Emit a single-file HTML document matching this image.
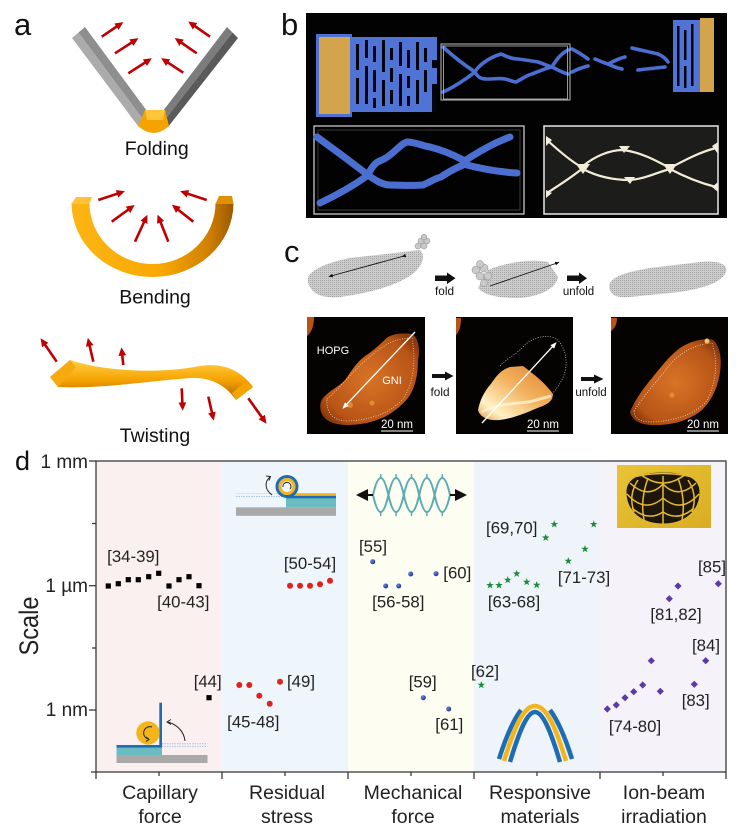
<!DOCTYPE html>
<html><head><meta charset="utf-8">
<style>
html,body{margin:0;padding:0;background:#fff;}
svg{display:block;}
text{font-family:"Liberation Sans",Arial,sans-serif;}
</style></head><body>
<svg width="755" height="831" viewBox="0 0 755 831" xmlns="http://www.w3.org/2000/svg">
<defs>
<marker id="rh" markerWidth="3.2" markerHeight="3" refX="1.2" refY="1.5" orient="auto"><path d="M0,0 L3.2,1.5 L0,3 z" fill="#c00000"/></marker>
<marker id="wh" markerWidth="5" markerHeight="4" refX="2" refY="2" orient="auto"><path d="M0,0 L5,2 L0,4 z" fill="#fff"/></marker>
<marker id="kh" markerWidth="5" markerHeight="4" refX="2" refY="2" orient="auto"><path d="M0,0 L5,2 L0,4 z" fill="#111"/></marker>
<marker id="ks" markerWidth="6" markerHeight="6" refX="3" refY="3" orient="auto"><path d="M0,0 L6,3 L0,6 z" fill="#111"/></marker>
<linearGradient id="bendG" x1="0" y1="0" x2="1" y2="0">
<stop offset="0" stop-color="#fdb515"/><stop offset="0.55" stop-color="#f9a800"/><stop offset="0.85" stop-color="#d08000"/><stop offset="1" stop-color="#9a5800"/></linearGradient>
<linearGradient id="twG" x1="0" y1="0" x2="0" y2="1">
<stop offset="0" stop-color="#ffcf45"/><stop offset="0.5" stop-color="#f5a300"/><stop offset="1" stop-color="#b06400"/></linearGradient>
<radialGradient id="afm1" cx="0.5" cy="0.5" r="0.6">
<stop offset="0" stop-color="#d87426"/><stop offset="0.8" stop-color="#b85416"/><stop offset="1" stop-color="#8a3a0c"/></radialGradient>
<linearGradient id="afm2" x1="1" y1="0" x2="0" y2="1">
<stop offset="0" stop-color="#e0802c"/><stop offset="0.45" stop-color="#f3b462"/><stop offset="0.8" stop-color="#fff2c6"/><stop offset="1" stop-color="#e89a48"/></linearGradient>
<radialGradient id="blueS" cx="0.35" cy="0.35" r="0.7">
<stop offset="0" stop-color="#6a88e0"/><stop offset="1" stop-color="#1a2e8a"/></radialGradient>
<linearGradient id="goldG" x1="0" y1="0" x2="1" y2="1">
<stop offset="0" stop-color="#e9c437"/><stop offset="1" stop-color="#d9ad22"/></linearGradient>
<pattern id="dots" width="2" height="2" patternUnits="userSpaceOnUse"><rect width="2" height="2" fill="#cdcdcd"/><rect width="1" height="1" fill="#a3a3a3"/></pattern>
<path id="star" d="M0,-4 L0.94,-1.29 L3.8,-1.24 L1.52,0.49 L2.35,3.24 L0,1.6 L-2.35,3.24 L-1.52,0.49 L-3.8,-1.24 L-0.94,-1.29 Z" fill="#1e8a3c"/>
<path id="dia" d="M0,-3.6 L3.6,0 L0,3.6 L-3.6,0 Z" fill="#5a3aa8"/>
<rect id="sq" x="-2.6" y="-2.6" width="5.2" height="5.2" fill="#000"/>
<circle id="rc" r="3" fill="#e0201c"/>
<circle id="bc" r="2.5" fill="url(#blueS)"/>
</defs>

<!-- ===== Panel labels ===== -->
<text x="14" y="35" font-size="31" fill="#111">a</text>
<text x="281" y="35" font-size="31" fill="#111">b</text>
<text x="284" y="262" font-size="31" fill="#111">c</text>
<text x="15" y="470" font-size="27" fill="#111">d</text>

<!-- ===== Panel a: Folding ===== -->
<polygon points="72,38 78.5,32.5 142.5,118.5 138,126" fill="#ababab"/>
<polygon points="78.5,32.5 85,27 147,111 142.5,118.5" fill="#8e8e8e"/>
<polygon points="227,27 232.5,32.5 165.5,119 163,111" fill="#7c7c7c"/>
<polygon points="232.5,32.5 238,38 168,127 165.5,119" fill="#5a5a5a"/>
<path d="M145,110 L165,110 L169,126 Q154,140 138,126 Z" fill="#f5a300"/>
<polygon points="145,110 165,110 163,120 147,120" fill="#ffc43a"/>
<g stroke="#c00000" stroke-width="2.6" marker-end="url(#rh)">
<line x1="101.7" y1="36.7" x2="119" y2="25"/>
<line x1="115" y1="53.3" x2="134" y2="41"/>
<line x1="128.3" y1="73.3" x2="147.5" y2="61"/>
<line x1="210" y1="36.7" x2="192.5" y2="24.5"/>
<line x1="196.7" y1="53.3" x2="179" y2="41"/>
<line x1="183.3" y1="72.7" x2="165.5" y2="61"/>
</g>
<text x="156.7" y="155" font-size="19.5" text-anchor="middle" fill="#111">Folding</text>

<!-- Bending -->
<path d="M71.5,203 A81,74 0 0 0 233.5,203 L215.5,203 A63,61 0 0 1 89.5,203 Z" fill="url(#bendG)"/>
<polygon points="71.5,204 76,197 92,197 89.5,204" fill="#ffc23a"/>
<polygon points="215.5,204 219,196 232,196 233.5,204" fill="#e09000"/>
<g stroke="#c00000" stroke-width="2.6" marker-end="url(#rh)">
<line x1="98.3" y1="200" x2="120" y2="192.8"/>
<line x1="111.7" y1="221.7" x2="130.5" y2="208"/>
<line x1="135" y1="241.7" x2="145.2" y2="219.5"/>
<line x1="168.3" y1="241.7" x2="159.5" y2="219.5"/>
<line x1="193.3" y1="221.7" x2="176" y2="208"/>
<line x1="206.7" y1="200" x2="185" y2="192.8"/>
</g>
<text x="155" y="303.5" font-size="19.5" text-anchor="middle" fill="#111">Bending</text>

<!-- Twisting -->
<path d="M58,387 L50,377 L70,360 C110,373 165,373 200,366 C225,362 242,372 253,387 L236,400 C226,386 212,377 190,378 C150,381 100,389 58,387 Z" fill="url(#twG)"/>
<polygon points="50,377 70,360 76,367 58,387" fill="#f7aa10"/>
<polygon points="236,400 253,387 246,381 232,393" fill="#f5a300"/>
<g stroke="#c00000" stroke-width="2.6" marker-end="url(#rh)">
<line x1="56.7" y1="361.7" x2="43.5" y2="342.5"/>
<line x1="93.3" y1="361.7" x2="89" y2="343"/>
<line x1="123.3" y1="365" x2="122" y2="352.5"/>
<line x1="181.7" y1="388.3" x2="182.5" y2="405.5"/>
<line x1="208.3" y1="396.7" x2="212.6" y2="415.5"/>
<line x1="248.3" y1="398.3" x2="263.5" y2="419.5"/>
</g>
<text x="155" y="442" font-size="19.5" text-anchor="middle" fill="#111">Twisting</text>

<!-- ===== Panel b ===== -->
<rect x="306" y="13" width="421" height="205" fill="#020202"/>
<rect x="316" y="34" width="36" height="83" fill="#4e72d4"/>
<rect x="319" y="37" width="31" height="77" fill="#d4a44c"/>
<rect x="350" y="37" width="87" height="75" fill="#4f74d6"/>
<g fill="#050510">
<rect x="356" y="44" width="3" height="26"/><rect x="356" y="78" width="3" height="26"/>
<rect x="365" y="40" width="3" height="18"/><rect x="365" y="66" width="3" height="38"/>
<rect x="373" y="46" width="3" height="16"/><rect x="373" y="70" width="3" height="22"/><rect x="373" y="98" width="3" height="10"/>
<rect x="382" y="40" width="3" height="32"/><rect x="382" y="80" width="3" height="26"/>
<rect x="390" y="48" width="3" height="12"/><rect x="390" y="68" width="3" height="14"/><rect x="390" y="90" width="3" height="14"/>
<rect x="399" y="42" width="3" height="24"/><rect x="399" y="74" width="3" height="32"/>
<rect x="407" y="50" width="3" height="18"/><rect x="407" y="76" width="3" height="12"/><rect x="407" y="96" width="3" height="10"/>
<rect x="416" y="42" width="3" height="28"/><rect x="416" y="80" width="3" height="24"/>
<rect x="424" y="48" width="3" height="14"/><rect x="424" y="70" width="3" height="22"/>
<rect x="432" y="60" width="5" height="8"/><rect x="432" y="84" width="5" height="28"/>
</g>
<rect x="673" y="20" width="29" height="72" fill="#4f74d6"/>
<rect x="700" y="18" width="14" height="74" fill="#d4a44c"/>
<g fill="#050510">
<rect x="677" y="26" width="2.5" height="60"/><rect x="684" y="30" width="2.5" height="30"/><rect x="684" y="66" width="2.5" height="22"/>
<rect x="691" y="24" width="2.5" height="62"/>
</g>
<g fill="none" stroke="#4a6fd0" stroke-width="3.6" stroke-linecap="round" stroke-linejoin="round">
<path d="M443,47 C455,58 466,66 475,72 C465,80 452,88 443,92"/>
<path d="M475,72 C478,66 488,58 501,54 C508,57 512,59 518,59 C526,60 532,61 538,62 C544,64 548,66 552,67"/>
<path d="M475,72 C478,78 482,79 487,79 C495,79 500,78 505,79 C510,80 513,82 516,82 C522,79 527,75 532,74 C540,71 546,68 552,67"/>
<path d="M552,67 C556,60 562,53 568,50"/>
<path d="M552,67 C558,70 563,73 568,74"/>
<path d="M572,49 C578,52 584,56 588,59"/>
<path d="M572,72 C578,69 584,67 588,66"/>
<path d="M595,59 C600,61 604,63 608,64 C614,61 620,58 625,57"/>
<path d="M608,64 C612,66 617,68 622,69"/>
<path d="M632,48 C640,50 650,52 658,54 C663,56 666,59 668,62"/>
<path d="M638,70 C646,69 656,68 665,67"/>
</g>
<rect x="441" y="44" width="129" height="56" fill="none" stroke="#bdbdbd" stroke-width="1"/>
<rect x="443.5" y="46" width="124" height="53" fill="none" stroke="#bdbdbd" stroke-width="0.8"/>
<rect x="314" y="126" width="210" height="88" fill="#020202" stroke="#d8d8d8" stroke-width="1.2"/>
<rect x="318" y="130" width="202" height="80" fill="none" stroke="#555" stroke-width="0.7"/>
<g fill="none" stroke="#4a6fd0" stroke-width="7" stroke-linecap="round" stroke-linejoin="round">
<path d="M317,137 C335,150 355,165 368,175 C355,185 335,196 320,203"/>
<path d="M368,175 C372,166 376,162 382,160 C392,156 400,144 407,142 C416,142 422,146 430,147 C442,150 452,154 463,160"/>
<path d="M368,175 C376,181 383,185 390,185 C400,185 412,186 423,185 C430,182 436,178 441,177 C448,172 456,168 463,165"/>
<path d="M463,162 C475,154 493,143 510,137"/>
<path d="M463,164 C478,168 498,172 517,173"/>
</g>
<rect x="544" y="126" width="174" height="88" fill="#1c1c1a" stroke="#e8e8e8" stroke-width="1.5"/>
<g fill="none" stroke="#f2ecd8" stroke-width="2.2" stroke-linecap="round">
<path d="M547,140 C560,152 572,162 583,168"/>
<path d="M583,168 C572,177 558,186 547,193"/>
<path d="M583,166 C595,156 610,150 623,150 C640,152 655,160 670,168"/>
<path d="M583,169 C598,177 615,180 630,180 C645,179 658,172 670,169"/>
<path d="M670,168 C685,160 700,152 716,148"/>
<path d="M670,169 C685,177 700,183 716,187"/>
</g>
<g fill="#f2ecd8">
<path d="M576,164 L590,164 L583,174 Z"/>
<path d="M663,164 L677,164 L670,174 Z"/>
<path d="M619,146 L630,146 L624,153 Z"/>
<path d="M624,177 L635,177 L630,184 Z"/>
<path d="M712,146 L718,142 L718,154 Z"/>
<path d="M712,187 L718,182 L718,192 Z"/>
<path d="M546,136 L552,140 L546,146 Z"/>
<path d="M546,190 L552,193 L546,198 Z"/>
</g>

<!-- ===== Panel c top: models ===== -->
<path d="M308,282 C305,270 330,262 350,258 L420,250 C426,256 422,265 415,272 C400,285 370,293 340,297 C320,299 310,292 308,282 Z" fill="url(#dots)"/>
<g fill="#c8c8c8" stroke="#8a8a8a" stroke-width="0.5">
<circle cx="418" cy="246" r="3"/><circle cx="424" cy="246" r="3"/><circle cx="421" cy="241" r="3"/><circle cx="427" cy="241" r="3"/><circle cx="424" cy="237" r="2.8"/>
</g>
<line x1="404" y1="256" x2="331" y2="276" stroke="#111" stroke-width="0.9" marker-end="url(#kh)" marker-start="url(#kh)"/>
<polygon points="435,275.5 447,275.5 447,272.5 455.5,278.3 447,284 447,281 435,281" fill="#111"/>
<text x="444.5" y="295" font-size="11.8" text-anchor="middle" fill="#111">fold</text>
<path d="M478,288 L488,270 C505,263 530,258 548,262 L558,277 C556,289 540,296 520,298 C500,298 485,296 478,288 Z" fill="url(#dots)"/>
<g fill="#cacaca" stroke="#8a8a8a" stroke-width="0.5">
<circle cx="476" cy="270" r="4"/><circle cx="484" cy="268" r="4"/><circle cx="480" cy="276" r="4"/><circle cx="488" cy="276" r="4"/><circle cx="484" cy="283" r="3.5"/><circle cx="480" cy="264" r="3.5"/>
</g>
<line x1="490" y1="286" x2="557" y2="263" stroke="#111" stroke-width="0.9" marker-end="url(#kh)"/>
<polygon points="567,275.5 579,275.5 579,272.5 587,278.3 579,284 579,281 567,281" fill="#111"/>
<text x="578.5" y="295" font-size="11.5" text-anchor="middle" fill="#111">unfold</text>
<path d="M610,290 C605,278 625,272 650,268 L700,262 C720,260 728,265 726,272 C722,283 700,290 670,293 L630,297 C615,298 612,295 610,290 Z" fill="url(#dots)"/>

<!-- AFM images -->
<rect x="307" y="317" width="118" height="117" fill="#050302"/>
<path d="M307,317 L314,317 C314,325 312,332 307,336 Z" fill="#b85416"/>
<path d="M323,398 C330,390 340,386 345,380 C352,370 357,362 365,356 C375,350 382,342 388,337 C395,333 405,333 413,334 C419,340 420,350 418,360 C418,372 416,385 410,395 C404,404 396,410 388,415 C378,421 362,425 348,425 C336,425 326,422 322,414 C319,408 320,402 323,398 Z" fill="url(#afm1)"/>
<path d="M327,399 C340,388 352,372 366,360 C380,348 392,338 412,338 C416,360 414,380 404,398 C392,412 372,420 348,421 C334,421 326,414 327,399 Z" fill="none" stroke="#fff" stroke-width="0.7" stroke-dasharray="1,1.5" opacity="0.8"/>
<circle cx="350" cy="405" r="3" fill="#e8943a" opacity="0.8"/>
<circle cx="372" cy="403" r="2.5" fill="#e8943a" opacity="0.8"/>
<line x1="415" y1="332" x2="345" y2="406" stroke="#fff" stroke-width="1.3" marker-end="url(#wh)"/>
<text x="333" y="354" font-size="11" text-anchor="middle" fill="#fff">HOPG</text>
<text x="392" y="384" font-size="11" text-anchor="middle" fill="#fff">GNI</text>
<text x="397" y="428" font-size="11.5" text-anchor="middle" fill="#fff">20 nm</text>
<line x1="381" y1="431" x2="413" y2="431" stroke="#fff" stroke-width="1"/>

<polygon points="432,374 445,374 445,371.5 453.5,376 445,380.5 445,378 432,378" fill="#111"/>
<text x="440" y="396" font-size="11.8" text-anchor="middle" fill="#111">fold</text>

<rect x="456" y="317" width="117" height="117" fill="#050302"/>
<path d="M456,318 L461,318 C461,326 459,332 456,335 Z" fill="#b85416"/>
<path d="M500,366 C505,360 515,355 522,348 C530,338 545,334 555,338 C565,345 568,360 565,372 C562,382 556,390 550,396" fill="none" stroke="#fff" stroke-width="0.7" stroke-dasharray="1,1.5" opacity="0.85"/>
<path d="M478,410 C480,400 484,392 490,385 C496,377 500,370 510,367 L523,366 C535,375 545,383 553,394 C553,400 549,404 540,407 C528,412 515,418 500,420 C490,421 480,418 478,410 Z" fill="url(#afm2)"/>
<path d="M482,412 C492,405 510,404 528,402 C538,400 546,397 551,396" fill="none" stroke="#fff8dc" stroke-width="3" opacity="0.7"/>
<line x1="482" y1="423" x2="554" y2="345" stroke="#fff" stroke-width="1.3" marker-end="url(#wh)"/>
<text x="543" y="428" font-size="11.5" text-anchor="middle" fill="#fff">20 nm</text>
<line x1="527" y1="431" x2="559" y2="431" stroke="#fff" stroke-width="1"/>

<polygon points="581,377 594,377 594,374.5 603.5,379 594,383.5 594,381 581,381" fill="#111"/>
<text x="591" y="396" font-size="11.5" text-anchor="middle" fill="#111">unfold</text>

<rect x="611" y="317" width="117" height="117" fill="#050302"/>
<path d="M611,318 L617,318 C617,324 615,328 611,331 Z" fill="#b85416"/>
<path d="M630,412 C635,400 642,390 652,378 C662,366 672,352 685,345 C695,340 705,338 713,340 C720,346 722,358 720,372 C718,387 712,400 702,410 C690,420 675,424 660,425 C645,426 633,423 630,412 Z" fill="url(#afm1)"/>
<path d="M634,411 C644,395 660,378 672,362 C682,352 696,344 712,343 C718,360 717,382 706,402 C692,416 672,421 652,422 C640,422 634,418 634,411 Z" fill="none" stroke="#fff" stroke-width="0.7" stroke-dasharray="1,1.5" opacity="0.8"/>
<circle cx="707" cy="341" r="2.5" fill="#f5c070"/>
<circle cx="672" cy="395" r="2.5" fill="#e8943a" opacity="0.8"/>
<text x="703" y="428" font-size="11.5" text-anchor="middle" fill="#fff">20 nm</text>
<line x1="687" y1="431" x2="719" y2="431" stroke="#fff" stroke-width="1"/>

<!-- ===== Panel d ===== -->
<rect x="96" y="461" width="126" height="311" fill="#fbf0f0"/>
<rect x="222" y="461" width="126" height="311" fill="#eef6fc"/>
<rect x="348" y="461" width="126" height="311" fill="#fdfdf2"/>
<rect x="474" y="461" width="126" height="311" fill="#eef4fa"/>
<rect x="600" y="461" width="126" height="311" fill="#f5f2fa"/>
<rect x="96" y="461" width="630" height="311" fill="none" stroke="#3a3a3a" stroke-width="1.3"/>
<g stroke="#3a3a3a" stroke-width="1.3">
<line x1="89" y1="461" x2="96" y2="461"/><line x1="89" y1="585.7" x2="96" y2="585.7"/><line x1="89" y1="710" x2="96" y2="710"/><line x1="91" y1="772" x2="96" y2="772"/>
<line x1="92" y1="523.5" x2="96" y2="523.5"/><line x1="92" y1="648" x2="96" y2="648"/>
<line x1="96" y1="772" x2="96" y2="779"/><line x1="222" y1="772" x2="222" y2="779"/><line x1="348" y1="772" x2="348" y2="779"/><line x1="474" y1="772" x2="474" y2="779"/><line x1="600" y1="772" x2="600" y2="779"/><line x1="726" y1="772" x2="726" y2="779"/>
<line x1="159" y1="772" x2="159" y2="776"/><line x1="285" y1="772" x2="285" y2="776"/><line x1="411" y1="772" x2="411" y2="776"/><line x1="537" y1="772" x2="537" y2="776"/><line x1="663" y1="772" x2="663" y2="776"/>
</g>
<g font-size="19" text-anchor="end" fill="#222">
<text x="88" y="468">1 mm</text>
<text x="88" y="592">1 µm</text>
<text x="88" y="716">1 nm</text>
</g>
<text transform="translate(38,626) rotate(-90)" font-size="27" text-anchor="middle" fill="#222" textLength="59" lengthAdjust="spacingAndGlyphs">Scale</text>
<g font-size="19.5" text-anchor="middle" fill="#222">
<text x="160" y="799">Capillary</text><text x="160" y="823">force</text>
<text x="287" y="799">Residual</text><text x="287" y="823">stress</text>
<text x="413" y="799">Mechanical</text><text x="413" y="823">force</text>
<text x="540" y="799">Responsive</text><text x="540" y="823">materials</text>
<text x="664" y="799">Ion-beam</text><text x="664" y="823">irradiation</text>
</g>

<!-- capillary inset -->
<rect x="116.5" y="755" width="91" height="8" fill="#a9a9a9"/>
<rect x="116.5" y="747.3" width="45.5" height="7.7" fill="#6bbcc0"/>
<rect x="116.5" y="745" width="45.5" height="2.6" fill="#1e6cb4"/>
<rect x="159.3" y="702.7" width="2.7" height="44.6" fill="#1e6cb4"/>
<line x1="162" y1="743.8" x2="207.5" y2="743.8" stroke="#9bb8d8" stroke-width="0.8" stroke-dasharray="1.5,1"/>
<line x1="162" y1="746.5" x2="207.5" y2="746.5" stroke="#9bb8d8" stroke-width="0.8" stroke-dasharray="1.5,1"/>
<circle cx="148" cy="733" r="11.7" fill="#f2b51c"/>
<path d="M152,727 A6,6 0 1 0 148,739" fill="none" stroke="#222" stroke-width="1"/>
<path d="M146,737 L149,739.5 L146,741.5" fill="none" stroke="#222" stroke-width="1"/>
<path d="M185,741 C184,732 178,725 168,722" fill="none" stroke="#222" stroke-width="1"/>
<path d="M171,719.5 L167,722 L171,724.5" fill="none" stroke="#222" stroke-width="1"/>
<!-- residual inset -->
<rect x="236" y="507.3" width="100" height="8.5" fill="#a9a9a9"/>
<rect x="286" y="498" width="50" height="9.3" fill="#6bbcc0"/>
<rect x="286" y="493.2" width="50" height="2.6" fill="#f2b51c"/>
<rect x="286" y="495.8" width="50" height="2.5" fill="#1e6cb4"/>
<line x1="236" y1="493.5" x2="286" y2="493.5" stroke="#e8d080" stroke-width="0.8" stroke-dasharray="1.5,1"/>
<line x1="236" y1="496.5" x2="286" y2="496.5" stroke="#9bb8d8" stroke-width="0.8" stroke-dasharray="1.5,1"/>
<circle cx="287" cy="486.5" r="10" fill="none" stroke="#1e6cb4" stroke-width="3"/>
<circle cx="287" cy="486.5" r="7" fill="none" stroke="#f2b51c" stroke-width="3"/>
<path d="M283,487 A4,4 0 1 1 290,489" fill="none" stroke="#222" stroke-width="1"/>
<path d="M272,495 C265,490 264,482 270,477" fill="none" stroke="#222" stroke-width="1"/>
<path d="M266,476 L270.5,476.5 L269,480.5" fill="none" stroke="#222" stroke-width="1"/>
<!-- mechanical inset -->
<g fill="none" stroke="#5aacb2" stroke-width="2">
<path d="M373,495 Q380.7,461 388.4,495 T403.8,495 T419.2,495 T434.6,495 T450,495"/>
<path d="M373,495 Q380.7,529 388.4,495 T403.8,495 T419.2,495 T434.6,495 T450,495"/>
</g>
<g stroke="#5aacb2" stroke-width="1.5">
<line x1="380.7" y1="474" x2="380.7" y2="479"/><line x1="396.1" y1="474" x2="396.1" y2="479"/><line x1="411.5" y1="474" x2="411.5" y2="479"/><line x1="426.9" y1="474" x2="426.9" y2="479"/><line x1="442.3" y1="474" x2="442.3" y2="479"/>
<line x1="380.7" y1="511" x2="380.7" y2="516"/><line x1="396.1" y1="511" x2="396.1" y2="516"/><line x1="411.5" y1="511" x2="411.5" y2="516"/><line x1="426.9" y1="511" x2="426.9" y2="516"/><line x1="442.3" y1="511" x2="442.3" y2="516"/>
</g>
<line x1="373" y1="495" x2="362" y2="495" stroke="#111" stroke-width="2" marker-end="url(#ks)"/>
<line x1="450" y1="495" x2="461" y2="495" stroke="#111" stroke-width="2" marker-end="url(#ks)"/>
<!-- responsive arch -->
<g fill="none" stroke-width="4.5" stroke-linecap="butt">
<path d="M499,759 C505,740 512,722 521,710" stroke="#1e6cb4"/>
<path d="M572,759 C566,740 559,722 550,710" stroke="#1e6cb4"/>
<path d="M504,761 C515,725 524,706 535,706 C546,706 555,725 566,761" stroke="#f2b51c"/>
<path d="M510,762 C519,732 527,712 535,712 C543,712 551,732 560,762" stroke="#1e6cb4"/>
</g>
<!-- ion-beam inset -->
<rect x="617" y="465" width="94" height="63" fill="url(#goldG)"/>
<path d="M626,492 C626,478 640,472 663,472 C686,472 700,478 700,492 C700,512 684,524 663,524 C642,524 626,512 626,492 Z" fill="#1e160a"/>
<g fill="none" stroke="#e4bb30" stroke-width="1.5">
<path d="M633,477 Q663,470 693,477"/>
<path d="M640,474 Q663,492 686,474"/>
<path d="M630,483 Q648,500 663,484 Q678,500 696,483"/>
<path d="M627,494 Q645,514 663,498 Q681,514 699,494"/>
<path d="M632,508 Q648,522 663,512 Q678,522 694,508"/>
<path d="M663,476 L663,524"/>
<path d="M648,478 Q640,500 644,520"/><path d="M678,478 Q686,500 682,520"/>
<path d="M638,480 Q628,495 634,512"/><path d="M688,480 Q698,495 692,512"/>
</g>
<path d="M626,492 C626,478 640,472 663,472 C686,472 700,478 700,492 C700,512 684,524 663,524 C642,524 626,512 626,492 Z" fill="none" stroke="#e4bb30" stroke-width="1"/>

<!-- data -->
<g>
<use href="#sq" x="108.3" y="586"/><use href="#sq" x="118.3" y="583.7"/><use href="#sq" x="128.3" y="579.7"/><use href="#sq" x="138.3" y="579.7"/><use href="#sq" x="148.7" y="576.7"/><use href="#sq" x="158.7" y="573.3"/><use href="#sq" x="169" y="586"/><use href="#sq" x="179" y="579.7"/><use href="#sq" x="189" y="576.7"/><use href="#sq" x="199" y="585.7"/><use href="#sq" x="209" y="697.7"/>
<use href="#rc" x="239.3" y="685"/><use href="#rc" x="249.3" y="685"/><use href="#rc" x="259.3" y="695.7"/><use href="#rc" x="269.7" y="703.7"/><use href="#rc" x="280" y="681.7"/><use href="#rc" x="290" y="585.7"/><use href="#rc" x="300" y="585.7"/><use href="#rc" x="310" y="585.7"/><use href="#rc" x="320" y="584.3"/><use href="#rc" x="330" y="580.7"/>
<use href="#bc" x="372.7" y="561.7"/><use href="#bc" x="385.7" y="586"/><use href="#bc" x="398.7" y="586"/><use href="#bc" x="410.7" y="574"/><use href="#bc" x="436" y="573.7"/><use href="#bc" x="423.3" y="697.7"/><use href="#bc" x="448.7" y="709"/>
<use href="#star" x="481.3" y="685"/><use href="#star" x="490" y="585.3"/><use href="#star" x="499" y="585.3"/><use href="#star" x="507.7" y="580"/><use href="#star" x="516.7" y="573.7"/><use href="#star" x="526.7" y="582"/><use href="#star" x="536.7" y="585"/><use href="#star" x="545.7" y="537.7"/><use href="#star" x="554.3" y="524.3"/><use href="#star" x="568.3" y="561"/><use href="#star" x="585" y="549"/><use href="#star" x="593.7" y="524.3"/>
<use href="#dia" x="607.3" y="709"/><use href="#dia" x="616.3" y="705"/><use href="#dia" x="625" y="697.7"/><use href="#dia" x="633.7" y="691.7"/><use href="#dia" x="642.7" y="685"/><use href="#dia" x="651.3" y="660.7"/><use href="#dia" x="660.3" y="691.3"/><use href="#dia" x="669.3" y="598.7"/><use href="#dia" x="678" y="586"/><use href="#dia" x="694.3" y="684.3"/><use href="#dia" x="705.7" y="660.7"/><use href="#dia" x="718.3" y="583.7"/>
</g>
<g font-size="16.8" text-anchor="middle" fill="#222">
<text x="133.3" y="562">[34-39]</text>
<text x="183.3" y="607.5">[40-43]</text>
<text x="207.7" y="687">[44]</text>
<text x="301" y="687">[49]</text>
<text x="253.3" y="727.5">[45-48]</text>
<text x="310" y="569">[50-54]</text>
<text x="373" y="552">[55]</text>
<text x="398.3" y="607.5">[56-58]</text>
<text x="457.3" y="578.5">[60]</text>
<text x="422.7" y="687.5">[59]</text>
<text x="449.3" y="730">[61]</text>
<text x="485" y="677">[62]</text>
<text x="514" y="607.5">[63-68]</text>
<text x="511.7" y="533.5">[69,70]</text>
<text x="584" y="583">[71-73]</text>
<text x="635" y="732">[74-80]</text>
<text x="676" y="620">[81,82]</text>
<text x="695.7" y="706">[83]</text>
<text x="706" y="651">[84]</text>
<text x="712" y="572.5">[85]</text>
</g>
</svg>
</body></html>
